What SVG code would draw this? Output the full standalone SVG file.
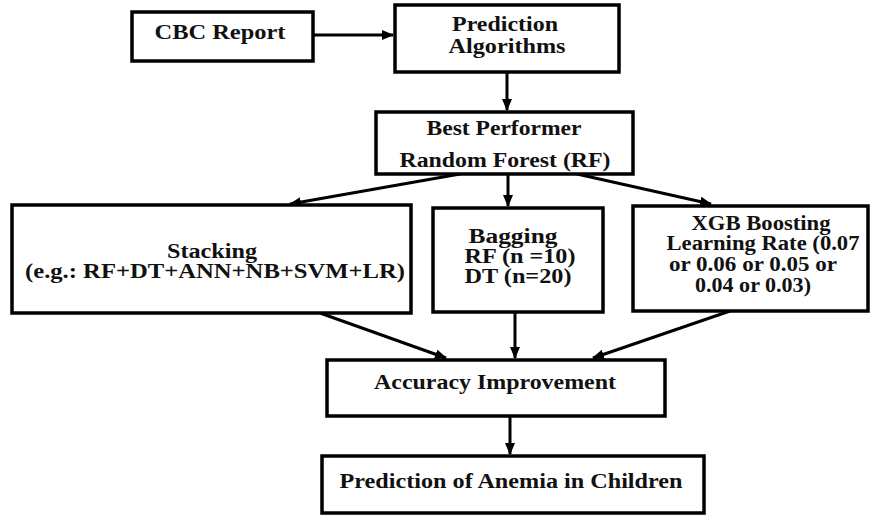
<svg xmlns="http://www.w3.org/2000/svg" width="871" height="517" viewBox="0 0 871 517">
<style>
.box{fill:#fff;stroke:#000;stroke-width:3.5}
.t{font-family:'Liberation Serif','Times New Roman','DejaVu Serif',serif;font-weight:700;font-size:20px;fill:#111;text-anchor:middle}
.c{stroke:#000;stroke-width:3;fill:none;marker-end:url(#ah)}
</style>
<defs>
<marker id="ah" markerUnits="userSpaceOnUse" markerWidth="12" markerHeight="10" refX="11" refY="5" orient="auto">
<path d="M0,0 L12,5 L0,10 Z" fill="#000"/>
</marker>
</defs>
<rect width="871" height="517" fill="#fff"/>
<g id="connectors">
<line class="c" x1="313" y1="35" x2="393" y2="35"/>
<line class="c" x1="507" y1="72" x2="507" y2="110"/>
<line class="c" x1="460" y1="174" x2="290" y2="204"/>
<line class="c" x1="508" y1="174" x2="508" y2="206"/>
<line class="c" x1="577" y1="174" x2="711" y2="204"/>
<line class="c" x1="320" y1="313" x2="446" y2="358"/>
<line class="c" x1="515" y1="312" x2="515" y2="358"/>
<line class="c" x1="730" y1="311" x2="593" y2="358"/>
<line class="c" x1="510" y1="416" x2="510" y2="454"/>
</g>
<g id="cbc">
<rect class="box" x="132" y="12" width="181" height="49"/>
<text class="t" x="220" y="39" textLength="131" lengthAdjust="spacingAndGlyphs">CBC Report</text>
</g>
<g id="prediction-algorithms">
<rect class="box" x="395" y="5" width="224" height="67"/>
<text class="t" x="505" y="31" textLength="106" lengthAdjust="spacingAndGlyphs">Prediction</text>
<text class="t" x="507" y="53" textLength="117" lengthAdjust="spacingAndGlyphs">Algorithms</text>
</g>
<g id="best-performer">
<rect class="box" x="376" y="112" width="257" height="62"/>
<text class="t" x="504" y="135" textLength="155" lengthAdjust="spacingAndGlyphs">Best Performer</text>
<text class="t" x="505" y="167" textLength="211" lengthAdjust="spacingAndGlyphs">Random Forest (RF)</text>
</g>
<g id="stacking">
<rect class="box" x="12" y="205" width="399" height="108"/>
<text class="t" x="212" y="258" textLength="90" lengthAdjust="spacingAndGlyphs">Stacking</text>
<text class="t" x="215" y="278" textLength="380" lengthAdjust="spacingAndGlyphs">(e.g.: RF+DT+ANN+NB+SVM+LR)</text>
</g>
<g id="bagging">
<rect class="box" x="433" y="208" width="170" height="104"/>
<text class="t" x="513" y="243" textLength="89" lengthAdjust="spacingAndGlyphs">Bagging</text>
<text class="t" x="520" y="263" textLength="111" lengthAdjust="spacingAndGlyphs">RF (n =10)</text>
<text class="t" x="518" y="283" textLength="107" lengthAdjust="spacingAndGlyphs">DT (n=20)</text>
</g>
<g id="xgb">
<rect class="box" x="633" y="206" width="235" height="105"/>
<text class="t" x="761" y="230" textLength="139" lengthAdjust="spacingAndGlyphs">XGB Boosting</text>
<text class="t" x="763" y="250" textLength="193" lengthAdjust="spacingAndGlyphs">Learning Rate (0.07</text>
<text class="t" x="753" y="271" textLength="168" lengthAdjust="spacingAndGlyphs">or 0.06 or 0.05 or</text>
<text class="t" x="753" y="292" textLength="116" lengthAdjust="spacingAndGlyphs">0.04 or 0.03)</text>
</g>
<g id="accuracy">
<rect class="box" x="327" y="360" width="338" height="56"/>
<text class="t" x="495" y="389" textLength="242" lengthAdjust="spacingAndGlyphs">Accuracy Improvement</text>
</g>
<g id="prediction-anemia">
<rect class="box" x="322" y="456" width="382" height="57"/>
<text class="t" x="511" y="488" textLength="343" lengthAdjust="spacingAndGlyphs">Prediction of Anemia in Children</text>
</g>
</svg>
